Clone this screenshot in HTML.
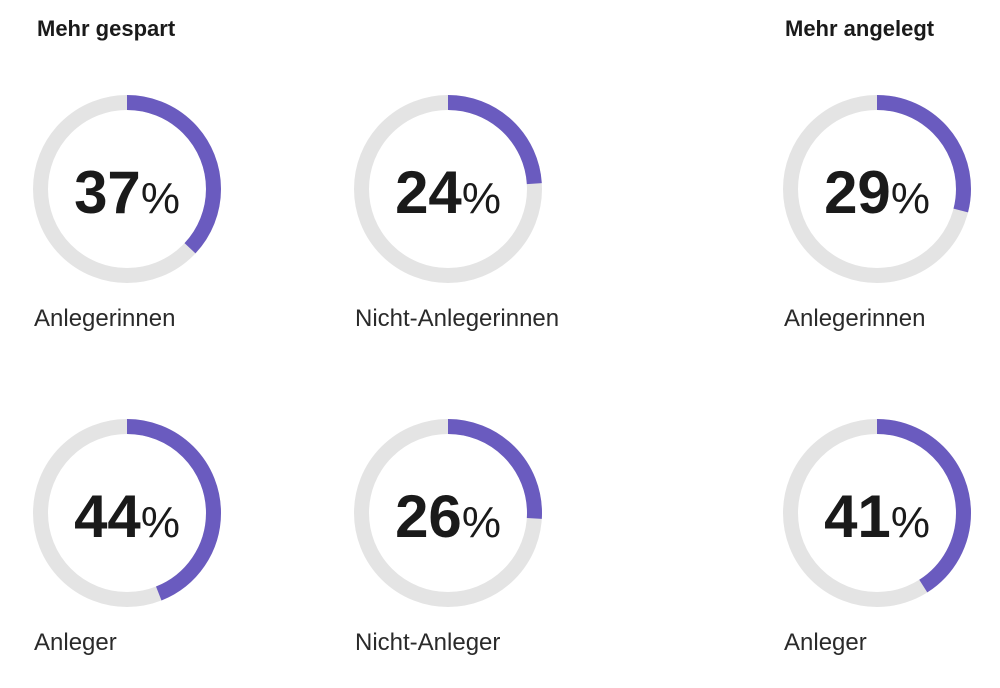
<!DOCTYPE html>
<html><head><meta charset="utf-8"><style>
body{margin:0;background:#fff;width:1000px;height:688px;overflow:hidden;font-family:"Liberation Sans",sans-serif;}
svg{display:block}
</style></head><body>
<svg width="1000" height="688">
<text x="37" y="36" font-size="22" font-weight="bold" fill="#1a1a1a">Mehr gespart</text>
<text x="785" y="36" font-size="22" font-weight="bold" fill="#1a1a1a">Mehr angelegt</text>
<g id="donuts"></g>
</svg>
<script>
const values=[37,24,29,44,26,41];
const labels=["Anlegerinnen","Nicht-Anlegerinnen","Anlegerinnen","Anleger","Nicht-Anleger","Anleger"];
const names=["gespart-anlegerinnen","gespart-nicht-anlegerinnen","angelegt-anlegerinnen","gespart-anleger","gespart-nicht-anleger","angelegt-anleger"];
const cols=[127,448,877], rows=[189,513];
const g=document.getElementById('donuts');
const NS="http://www.w3.org/2000/svg";
const R=86.5, C=2*Math.PI*R;
values.forEach((v,i)=>{
  const cx=cols[i%3], cy=rows[Math.floor(i/3)];
  const grp=document.createElementNS(NS,'g');
  
  
  const bg=document.createElementNS(NS,'circle');
  bg.setAttribute('cx',cx);bg.setAttribute('cy',cy);bg.setAttribute('r',R);
  bg.setAttribute('fill','none');bg.setAttribute('stroke','#e4e4e4');bg.setAttribute('stroke-width',15);
  
  
  grp.appendChild(bg);
  const arc=document.createElementNS(NS,'circle');
  arc.setAttribute('cx',cx);arc.setAttribute('cy',cy);arc.setAttribute('r',R);
  arc.setAttribute('fill','none');arc.setAttribute('stroke','#6a5bbf');arc.setAttribute('stroke-width',15);
  arc.setAttribute('stroke-dasharray',(C*v/100)+' '+C);
  arc.setAttribute('transform','rotate(-90 '+cx+' '+cy+')');
  
  
  grp.appendChild(arc);
  const t=document.createElementNS(NS,'text');
  t.setAttribute('x',cx);t.setAttribute('y',cy+24);t.setAttribute('text-anchor','middle');
  t.setAttribute('fill','#1a1a1a');
  
  
  t.innerHTML='<tspan font-size="60" font-weight="bold">'+v+'</tspan><tspan font-size="44">%</tspan>';
  grp.appendChild(t);
  const l=document.createElementNS(NS,'text');
  l.setAttribute('x',cx-93);l.setAttribute('y',cy+137);
  l.setAttribute('font-size','24');l.setAttribute('fill','#2a2a2a');
  
  
  l.textContent=labels[i];
  grp.appendChild(l);
  g.appendChild(grp);
});
</script>
</body></html>
